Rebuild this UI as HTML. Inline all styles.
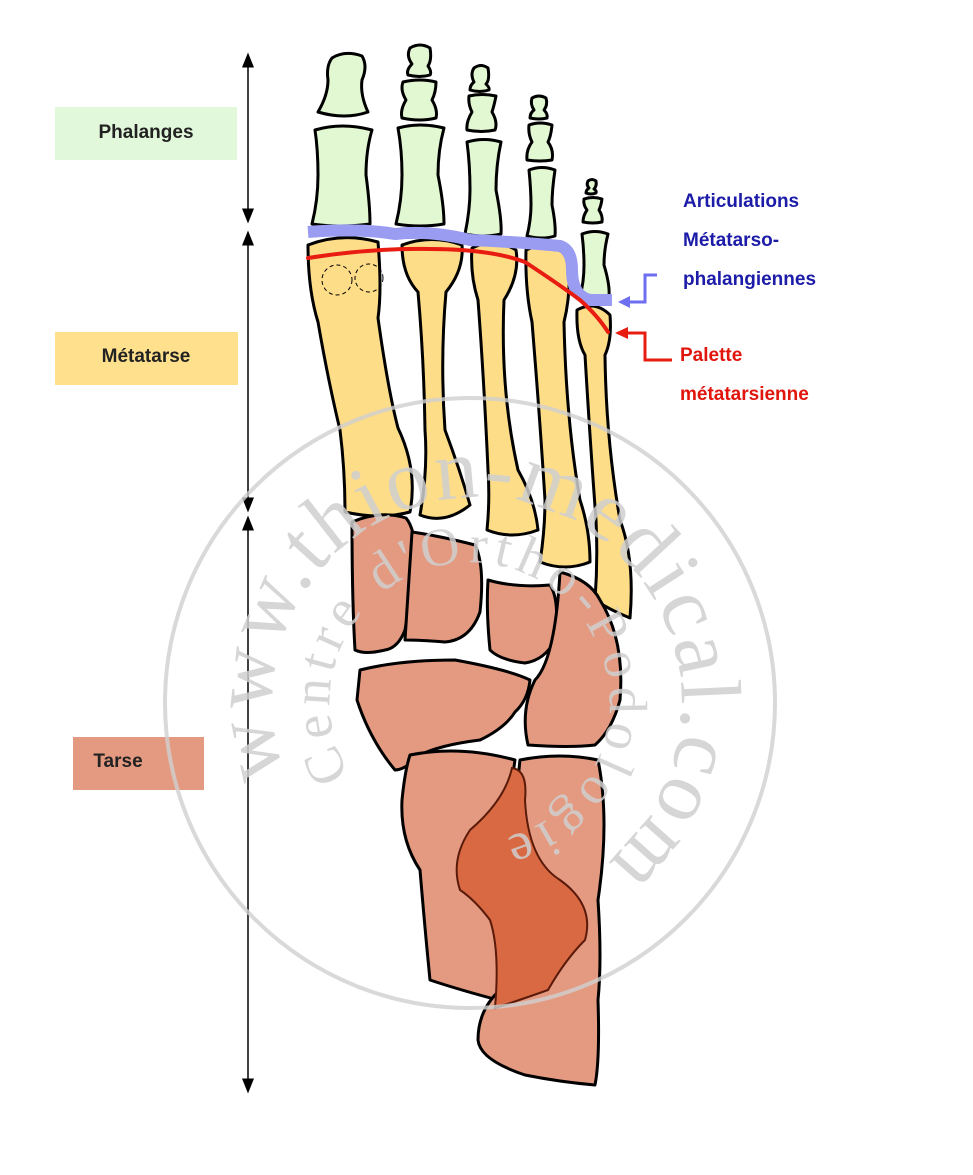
<!DOCTYPE html>
<html><head><meta charset="utf-8"><style>
html,body{margin:0;padding:0;background:#fff;}
svg{display:block;}
</style></head><body>
<svg width="973" height="1175" viewBox="0 0 973 1175" xmlns="http://www.w3.org/2000/svg">
<defs>
<marker id="ah" markerWidth="10" markerHeight="10" refX="5" refY="5" orient="auto-start-reverse"><path d="M0,1 L10,5 L0,9 z" fill="#000"/></marker>
</defs>
<g style="font-family:'Liberation Sans',sans-serif">
<rect x="55" y="107" width="182" height="53" fill="#e2f8da"/>
<text x="146" y="138" font-size="19" text-anchor="middle" font-weight="bold" fill="#222">Phalanges</text>
<rect x="55" y="332" width="183" height="53" fill="#ffe08c"/>
<text x="146" y="362" font-size="19" text-anchor="middle" font-weight="bold" fill="#222">Métatarse</text>
<rect x="73" y="737" width="131" height="53" fill="#e49a80"/>
<text x="118" y="767" font-size="19" text-anchor="middle" font-weight="bold" fill="#222">Tarse</text>
</g>
<g stroke="#000" stroke-width="1.5">
<line x1="248" y1="60" x2="248" y2="216" marker-start="url(#ah)" marker-end="url(#ah)"/>
<line x1="248" y1="238" x2="248" y2="505" marker-start="url(#ah)" marker-end="url(#ah)"/>
<line x1="248" y1="523" x2="248" y2="1086" marker-start="url(#ah)" marker-end="url(#ah)"/>
</g>
<g fill="#e2f8d2" stroke="#000" stroke-width="3" stroke-linejoin="round">
<path d="M332,58 Q345,50 362,56 Q368,66 362,80 Q360,95 368,112 Q345,120 318,112 Q328,95 328,80 Q326,66 332,58z"/>
<path d="M315,130 Q342,122 372,130 Q366,150 366,175 Q370,205 370,224 Q340,228 312,224 Q318,200 318,175 Q318,150 315,130z"/>
<path d="M410,48 Q420,42 430,48 Q432,60 428,66 Q432,72 430,75 Q420,78 408,75 Q406,70 412,64 Q406,56 410,48z"/>
<path d="M403,82 Q420,78 436,82 Q436,92 432,100 Q438,110 436,118 Q420,122 402,118 Q400,110 406,100 Q400,90 403,82z"/>
<path d="M398,128 Q420,122 444,128 Q438,150 438,175 Q444,205 444,224 Q420,228 396,224 Q402,200 402,175 Q402,150 398,128z"/>
<path d="M474,68 Q481,63 488,68 Q490,80 486,84 Q490,88 489,90 Q480,93 470,90 Q470,85 474,82 Q470,74 474,68z"/>
<path d="M469,96 Q482,93 496,96 Q494,106 492,112 Q498,122 495,130 Q482,133 467,130 Q466,122 472,112 Q468,104 469,96z"/>
<path d="M467,142 Q484,137 501,142 Q496,165 496,190 Q502,220 501,234 Q484,238 465,234 Q470,210 470,190 Q470,165 467,142z"/>
<path d="M532,98 Q539,94 546,98 Q548,105 544,110 Q548,114 547,118 Q539,120 530,118 Q530,113 534,110 Q530,104 532,98z"/>
<path d="M529,125 Q540,121 552,125 Q551,136 548,142 Q554,150 552,160 Q540,162 527,160 Q526,150 532,142 Q528,134 529,125z"/>
<path d="M529,170 Q542,165 555,170 Q552,190 552,205 Q556,225 555,236 Q542,240 527,236 Q531,220 531,205 Q531,190 529,170z"/>
<path d="M588,181 Q592,178 596,181 Q597,186 594,189 Q597,191 596,193 Q591,195 586,193 Q586,190 589,188 Q586,185 588,181z"/>
<path d="M584,199 Q593,196 602,199 Q601,206 599,210 Q603,216 602,222 Q593,224 583,222 Q583,216 587,210 Q583,205 584,199z"/>
<path d="M582,234 Q595,229 608,234 Q604,250 604,265 Q610,285 609,296 Q595,300 580,296 Q584,282 584,265 Q584,250 582,234z"/>
</g>
<g fill="#fedd88" stroke="#000" stroke-width="3" stroke-linejoin="round">
<path d="M308,245 Q342,232 378,242 Q382,290 378,318 Q388,390 398,428 Q418,470 410,512 Q380,520 345,512 Q345,470 340,430 Q328,380 318,322 Q308,290 308,245z"/>
<path d="M402,245 Q432,234 462,245 Q464,270 446,292 Q440,360 445,430 Q460,470 470,505 Q445,525 420,515 Q428,470 425,430 Q424,360 418,292 Q402,275 402,245z"/>
<path d="M472,248 Q494,237 516,250 Q520,275 504,300 Q500,390 518,470 Q535,500 538,530 Q512,540 487,530 Q490,500 488,470 Q484,380 478,300 Q470,275 472,248z"/>
<path d="M526,250 Q548,240 568,252 Q572,290 564,322 Q566,420 580,500 Q590,530 590,562 Q565,572 540,562 Q545,530 545,500 Q540,420 532,322 Q525,290 526,250z"/>
<path d="M577,310 Q595,300 610,315 Q612,340 605,355 Q606,440 620,520 Q635,560 630,618 Q610,610 595,600 Q598,560 596,520 Q590,440 585,355 Q576,340 577,310z"/>
</g>
<g fill="none" stroke="#000" stroke-width="1" stroke-dasharray="4,3">
<circle cx="337" cy="280" r="15"/><circle cx="369" cy="278" r="14"/>
</g>
<g fill="#e49a80" stroke="#000" stroke-width="3" stroke-linejoin="round">
<path d="M352,522 Q380,510 406,518 Q416,530 415,560 Q410,600 405,630 Q398,648 385,650 Q365,655 355,650 Q352,600 352,522z"/>
<path d="M412,532 Q440,536 475,545 Q485,565 480,612 Q470,640 445,642 Q420,640 405,640 Q408,590 412,532z"/>
<path d="M488,580 Q515,588 550,585 Q560,600 555,640 Q545,660 525,663 Q500,660 490,650 Q486,610 488,580z"/>
<path d="M560,572 Q590,580 600,600 Q625,640 620,700 Q612,730 595,745 Q570,748 528,745 Q520,710 535,680 Q555,660 560,572z"/>
<path d="M360,670 Q400,660 455,660 Q510,670 530,680 Q528,700 515,712 Q505,728 480,740 Q440,745 420,755 Q405,770 395,770 Q370,740 357,700z"/>
<path d="M410,755 Q460,745 515,760 Q510,790 512,860 Q500,930 498,1000 Q460,990 430,980 Q425,930 420,870 Q400,840 402,800 Q405,770 410,755z"/>
<path d="M520,760 Q560,752 598,760 Q610,820 598,900 Q602,960 598,1000 Q600,1060 595,1085 Q560,1082 525,1075 Q480,1060 478,1040 Q478,1010 500,990 Q520,930 520,860 Q515,800 520,760z"/>
</g>
<path d="M512,768 Q528,770 525,800 Q528,860 560,880 Q595,905 585,940 Q565,960 548,990 Q520,1000 495,1008 Q500,950 490,920 Q475,900 460,890 Q450,860 470,830 Q505,800 512,768z" fill="#d86942" stroke="#5a1a0a" stroke-width="2"/>
<path d="M308,232 Q360,228 395,234 Q430,230 470,240 Q520,242 560,246 Q572,250 572,270 Q572,296 590,300 L612,300" fill="none" stroke="#9a9cf2" stroke-width="12" stroke-linejoin="round"/>
<path d="M308,258 Q370,248 430,249 Q490,249 525,262 Q560,285 580,300 Q598,316 608,332" fill="none" stroke="#e81c10" stroke-width="4" stroke-linecap="round"/>
<path d="M657,275 L645,275 L645,302 L628,302" fill="none" stroke="#6e6ef0" stroke-width="3"/>
<path d="M618,302 L630,296 L630,308z" fill="#6e6ef0"/>
<path d="M672,360 L645,360 L645,333 L626,333" fill="none" stroke="#e81c10" stroke-width="3"/>
<path d="M615,333 L628,327 L628,339z" fill="#e81c10"/>
<g font-size="19" font-weight="bold" fill="#1c1ca8" style="font-family:'Liberation Sans',sans-serif">
<text x="683" y="207">Articulations</text>
<text x="683" y="246">Métatarso-</text>
<text x="683" y="285">phalangiennes</text>
</g>
<g font-size="19" font-weight="bold" fill="#e0150c" style="font-family:'Liberation Sans',sans-serif">
<text x="680" y="361">Palette</text>
<text x="680" y="400">métatarsienne</text>
</g>
<circle cx="470" cy="703" r="305" fill="none" stroke="#cfcfcf" stroke-width="4" opacity="0.8"/>
<path id="wm1" d="M285,775 A205,205 0 1,1 570,885" fill="none"/>
<path id="wm2" d="M350,775 A140,140 0 1,1 495,840" fill="none"/>
<text style="font-family:'Liberation Serif',serif" font-size="86" fill="#cfcfcf" opacity="0.85"><textPath href="#wm1" textLength="900" lengthAdjust="spacing">www.thion-medical.com</textPath></text>
<text style="font-family:'Liberation Serif',serif" font-size="54" fill="#cfcfcf" opacity="0.85"><textPath href="#wm2" textLength="700" lengthAdjust="spacing">Centre d'Ortho-Podologie</textPath></text>
</svg>
</body></html>
